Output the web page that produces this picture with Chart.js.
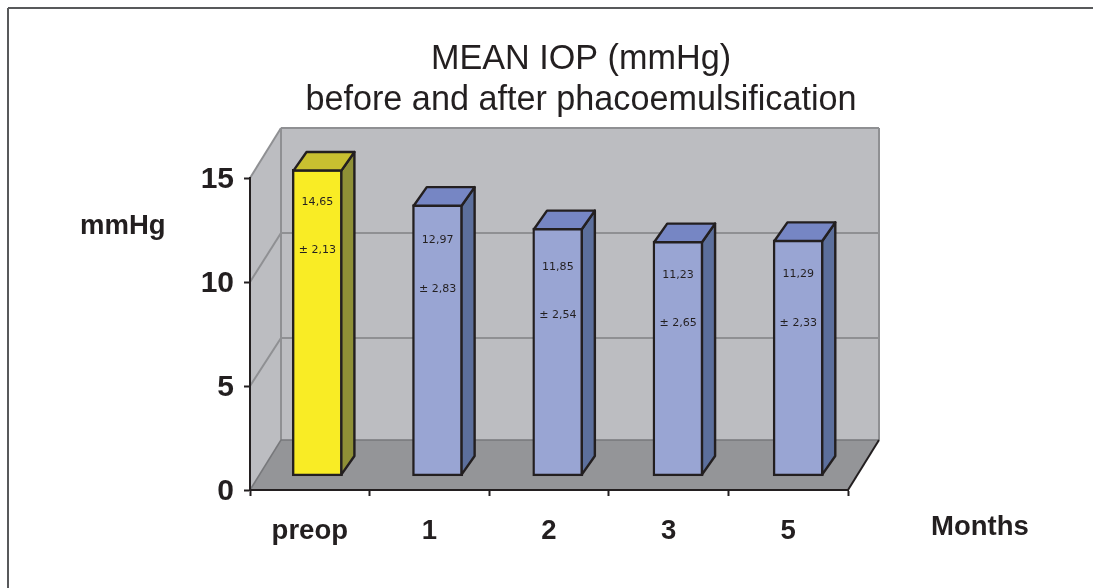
<!DOCTYPE html>
<html>
<head>
<meta charset="utf-8">
<style>
  html, body { margin: 0; padding: 0; background: #fff; }
  canvas { display: block; }
</style>
<script src="https://cdn.jsdelivr.net/npm/chart.js@4"></script>
</head>
<body>
<canvas id="chart" width="1093" height="588"></canvas>
<script>
const categories = ['preop', '1', '2', '3', '5'];
const means = [14.65, 12.97, 11.85, 11.23, 11.29];
const meanLabels = ['14,65', '12,97', '11,85', '11,23', '11,29'];
const sdLabels = ['± 2,13', '± 2,83', '± 2,54', '± 2,65', '± 2,33'];
const yTicks = [0, 5, 10, 15];

const frontColors = ['#f9ec25', '#99a5d3', '#99a5d3', '#99a5d3', '#99a5d3'];
const topColors = ['#c9c030', '#7686c4', '#7686c4', '#7686c4', '#7686c4'];
const sideColors = ['#8f9036', '#5c6f9c', '#5c6f9c', '#5c6f9c', '#5c6f9c'];
const labelDrops = [31, 34, 37, 32, 33];

const INK = '#231f20';
const WALL = '#bcbdc1';
const FLOOR = '#949598';
const WALL_LINE = '#8f9093';
const AXIS_FONT = '"Liberation Sans", Arial, sans-serif';
const BAR_LINE = 2.4;

// depth of the box and of each bar, in px
const BOX_DX = 31, BOX_DY = -50;
const BAR_DX = 13, BAR_DY = -18.5;
// the back grid lines of the original are not quite evenly spaced
const gridNudge = { 5: 2, 10: 1, 15: 0 };

function poly(ctx, pts, fill, stroke, lw) {
  ctx.beginPath();
  pts.forEach((p, i) => i ? ctx.lineTo(p[0], p[1]) : ctx.moveTo(p[0], p[1]));
  ctx.closePath();
  if (fill) { ctx.fillStyle = fill; ctx.fill(); }
  if (stroke) { ctx.strokeStyle = stroke; ctx.lineWidth = lw; ctx.lineJoin = 'round'; ctx.stroke(); }
}

function line(ctx, x1, y1, x2, y2, color, lw) {
  ctx.beginPath();
  ctx.moveTo(x1, y1);
  ctx.lineTo(x2, y2);
  ctx.strokeStyle = color;
  ctx.lineWidth = lw;
  ctx.stroke();
}

// walls, floor and page frame go under the axes
const boxPlugin = {
  id: 'box',
  afterLayout(chart) {
    // title is centred over the plot, not the page
    chart.titleBlock.left += 233;
    chart.titleBlock.right += 81;
  },
  beforeDraw(chart) {
    const { ctx, chartArea: a, scales } = chart;
    const y0 = scales.y.getPixelForValue(0);
    const yTop = scales.y.getPixelForValue(15);
    ctx.save();
    ctx.fillStyle = '#fff';
    ctx.fillRect(0, 0, chart.width, chart.height);
    line(ctx, 8, 588, 8, 8, '#58595b', 2);
    line(ctx, 8, 8, 1093, 8, '#58595b', 2);

    poly(ctx, [[a.left, y0], [a.left, yTop], [a.left + BOX_DX, yTop + BOX_DY], [a.left + BOX_DX, y0 + BOX_DY]], WALL);
    poly(ctx, [[a.left + BOX_DX, yTop + BOX_DY], [a.right + BOX_DX, yTop + BOX_DY], [a.right + BOX_DX, y0 + BOX_DY], [a.left + BOX_DX, y0 + BOX_DY]], WALL);
    poly(ctx, [[a.left, y0], [a.right, y0], [a.right + BOX_DX, y0 + BOX_DY], [a.left + BOX_DX, y0 + BOX_DY]], FLOOR);

    yTicks.forEach(v => {
      if (v === 0) return;
      const y = scales.y.getPixelForValue(v);
      const by = y + BOX_DY + gridNudge[v];
      line(ctx, a.left, y, a.left + BOX_DX, by, WALL_LINE, 2);
      line(ctx, a.left + BOX_DX, by, a.right + BOX_DX, by, WALL_LINE, 2);
    });
    line(ctx, a.left + BOX_DX, yTop + BOX_DY, a.left + BOX_DX, y0 + BOX_DY, WALL_LINE, 2);
    line(ctx, a.right + BOX_DX, yTop + BOX_DY, a.right + BOX_DX, y0 + BOX_DY, WALL_LINE, 2);
    line(ctx, a.left + BOX_DX, y0 + BOX_DY, a.right + BOX_DX, y0 + BOX_DY, '#77787b', 1.5);
    line(ctx, a.left, y0, a.left + BOX_DX, y0 + BOX_DY, '#77787b', 1.5);
    line(ctx, a.right, y0, a.right + BOX_DX, y0 + BOX_DY, INK, 2);

    ctx.fillStyle = INK;
    ctx.font = 'bold 27.5px ' + AXIS_FONT;
    ctx.textAlign = 'left';
    ctx.textBaseline = 'alphabetic';
    ctx.fillText('mmHg', 80, 234);
    ctx.fillText('Months', 931, 535);
    ctx.restore();
  },
  // bars stand in the middle of the box depth
  beforeDatasetsDraw(chart) {
    const { ctx, chartArea: a } = chart;
    ctx.save();
    ctx.translate(a.left + 7.3, 476.3);
    ctx.scale(1.0052, 1.0075);
    ctx.translate(-a.left, -a.bottom);
  },
  afterDatasetsDraw(chart) {
    const { ctx } = chart;
    chart.getDatasetMeta(0).data.forEach((bar, i) => {
      const { x, y, base, width } = bar.getProps(['x', 'y', 'base', 'width']);
      const l = x - width / 2 + BAR_LINE / 2, r = x + width / 2 - BAR_LINE / 2;
      const b = base - BAR_LINE / 2, t = y + BAR_LINE / 2;
      poly(ctx, [[r, t], [r + BAR_DX, t + BAR_DY], [r + BAR_DX, b + BAR_DY], [r, b]], sideColors[i], INK, BAR_LINE);
      poly(ctx, [[l, t], [l + BAR_DX, t + BAR_DY], [r + BAR_DX, t + BAR_DY], [r, t]], topColors[i], INK, BAR_LINE);

      ctx.fillStyle = INK;
      ctx.font = '11px "DejaVu Sans", sans-serif';
      ctx.textAlign = 'center';
      ctx.textBaseline = 'middle';
      ctx.fillText(meanLabels[i], x, y + labelDrops[i] + 1.5);
      ctx.fillText(sdLabels[i], x, y + labelDrops[i] + 49.5);
    });
    ctx.restore();
  }
};

new Chart(document.getElementById('chart').getContext('2d'), {
  type: 'bar',
  data: {
    labels: categories,
    datasets: [{
      data: means,
      backgroundColor: frontColors,
      borderColor: INK,
      borderWidth: BAR_LINE,
      borderSkipped: false,
      barThickness: 50
    }]
  },
  options: {
    responsive: false,
    animation: false,
    layout: { padding: { right: 245 } },
    plugins: {
      legend: { display: false },
      tooltip: { enabled: false },
      title: {
        display: true,
        text: ['MEAN IOP (mmHg)', 'before and after phacoemulsification'],
        color: INK,
        font: { family: AXIS_FONT, size: 34.2, weight: 'normal', lineHeight: 1.2 },
        padding: { top: 39, bottom: 57 }
      }
    },
    scales: {
      x: {
        afterFit: s => { s.height = 98; },
        border: { color: INK, width: 2 },
        grid: { offset: true, drawOnChartArea: false, tickLength: 6, tickColor: INK, tickWidth: 2 },
        ticks: { color: INK, padding: 19, font: { family: AXIS_FONT, size: 27.5, weight: 'bold' } }
      },
      y: {
        min: 0,
        max: 15,
        afterFit: s => { s.width = 250; },
        afterBuildTicks: s => { s.ticks = yTicks.map(v => ({ value: v })); },
        border: { color: INK, width: 2 },
        grid: { drawOnChartArea: false, tickLength: 6, tickColor: INK, tickWidth: 2 },
        ticks: { color: INK, padding: 10, labelOffset: 2, font: { family: AXIS_FONT, size: 30, weight: 'bold' } }
      }
    }
  },
  plugins: [boxPlugin]
});
</script>
</body>
</html>
